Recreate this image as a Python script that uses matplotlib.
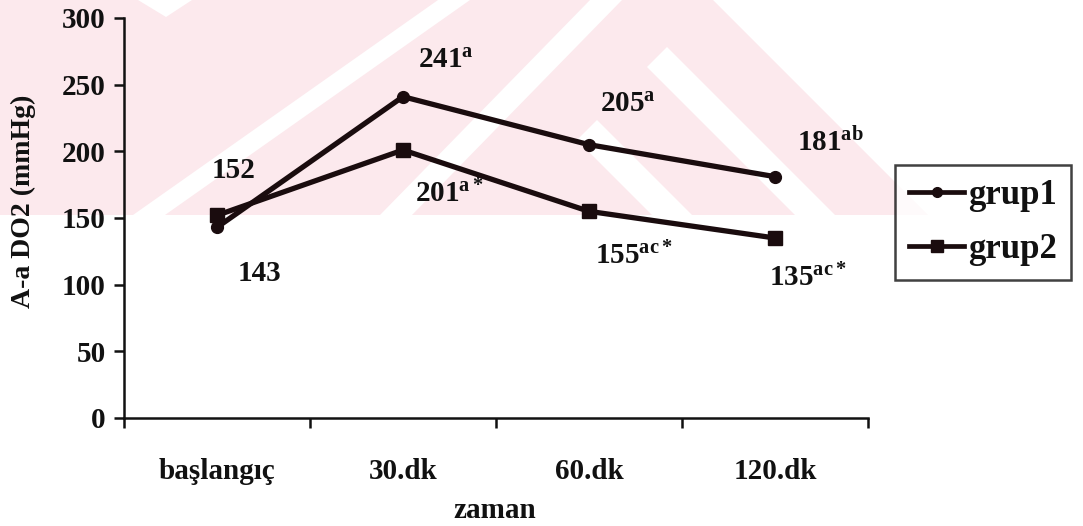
import matplotlib
matplotlib.use("Agg")
import matplotlib.pyplot as plt
from matplotlib.patches import Polygon
from matplotlib.lines import Line2D

# ---- data -------------------------------------------------------------
categories = ["başlangıç", "30.dk", "60.dk", "120.dk"]
grup1 = [143, 241, 205, 181]
grup2 = [152, 201, 155, 135]
grup1_sup = ["", "a", "a", "ab"]
grup2_sup = ["", "a*", "ac*", "ac*"]
yticks = [0, 50, 100, 150, 200, 250, 300]

# label anchor offsets (category units, value units) from each point
grup1_offsets = [(0.113, -40.2), (0.081, 21.5), (0.059, 24.5), (0.118, 18.5)]
grup2_offsets = [(-0.027, 28.0), (0.065, -39.0), (0.032, -39.5), (-0.032, -36.0)]

# ---- style ------------------------------------------------------------
plt.rcParams["font.family"] = ["Liberation Serif", "DejaVu Serif"]
plt.rcParams["font.weight"] = "bold"
plt.rcParams["mathtext.fontset"] = "custom"
plt.rcParams["mathtext.rm"] = "Liberation Serif:bold"
plt.rcParams["mathtext.it"] = "Liberation Serif:bold"
plt.rcParams["mathtext.bf"] = "Liberation Serif:bold"

INK = "#1a0c0e"
TXT = "#111111"
PINK = "#fce9ed"
FS = 21

W, H = 1083, 526
fig = plt.figure(figsize=(W / 100, H / 100), dpi=100)


def px(pts):
    return [(x / W, 1 - y / H) for x, y in pts]


# faint background emblem (pixel geometry, y measured downwards)
emblem = [(0, 0), (713, 0), (928, 215), (0, 215)]
gaps = [
    [(138, 0), (192, 0), (166, 17)],
    [(133, 215), (165, 215), (470, 0), (438, 0)],
    [(380, 215), (412, 215), (622, 0), (590, 0)],
    [(667, 47), (835, 215), (795, 215), (647, 67)],
    [(597, 120), (692, 215), (652, 215), (577, 140)],
]
fig.patches.append(Polygon(px(emblem), closed=True, transform=fig.transFigure,
                           facecolor=PINK, edgecolor="none", zorder=-10))
for g in gaps:
    fig.patches.append(Polygon(px(g), closed=True, transform=fig.transFigure,
                               facecolor="white", edgecolor="none", zorder=-9))

ax = fig.add_axes([124 / W, 1 - 418 / H, 744 / W, 400 / H])
ax.set_facecolor("none")

xs = list(range(len(categories)))
ax.plot(xs, grup1, color=INK, lw=3.8, marker="o", ms=8.5, label="grup1",
        solid_joinstyle="round", zorder=3)
ax.plot(xs, grup2, color=INK, lw=3.8, marker="s", ms=10.5, label="grup2",
        solid_joinstyle="round", zorder=3)

ax.set_xlim(-0.5, len(categories) - 0.5)
ax.set_ylim(0, 300)

for vals, sups, offs in ((grup1, grup1_sup, grup1_offsets),
                         (grup2, grup2_sup, grup2_offsets)):
    for i, (v, s, (dx, dy)) in enumerate(zip(vals, sups, offs)):
        label = f"${v}^{{{s}}}$" if s else f"{v}"
        ax.text(i + dx, v + dy, label, fontsize=FS, fontweight="bold",
                color=TXT, ha="left", va="baseline", zorder=4)

# axes frame
for side in ("top", "right"):
    ax.spines[side].set_visible(False)
for side in ("left", "bottom"):
    ax.spines[side].set_linewidth(1.8)
    ax.spines[side].set_color(TXT)

ax.set_yticks(yticks)
ax.set_yticklabels([str(t) for t in yticks])
ax.tick_params(axis="y", direction="out", length=7, width=1.8, pad=6,
               labelsize=FS, colors=TXT)

ax.set_xticks(xs)
ax.set_xticklabels(categories)
ax.set_xticks([x - 0.5 for x in range(len(categories) + 1)], minor=True)
ax.tick_params(axis="x", which="major", length=0, pad=29, labelsize=FS,
               colors=TXT)
ax.tick_params(axis="x", which="minor", direction="out", length=7, width=1.8,
               colors=TXT)

ax.set_xlabel("zaman", fontsize=FS, fontweight="bold", color=TXT)
ax.xaxis.label.set_va("baseline")
ax.xaxis.set_label_coords(0.4987, -0.25)

ax.set_ylabel("A-a DO2 (mmHg)", fontsize=20, fontweight="bold", color=TXT)
ax.yaxis.label.set_va("center")
ax.yaxis.set_label_coords(-0.1358, 0.5425)

handles = [
    Line2D([], [], color=INK, lw=3.4, marker="o", ms=7),
    Line2D([], [], color=INK, lw=3.4, marker="s", ms=8),
]
leg = fig.legend(handles, ["grup1", "grup2"], loc="upper left",
                 bbox_to_anchor=(895 / W, 1 - 165 / H), borderaxespad=0,
                 prop={"family": "Liberation Serif", "weight": "bold",
                       "size": 25},
                 frameon=True, fancybox=False, handlelength=1.6,
                 handletextpad=0.1, borderpad=0.4, labelspacing=0.6)
leg.get_frame().set_edgecolor(TXT)
leg.get_frame().set_linewidth(1.8)
for t in leg.get_texts():
    t.set_color(TXT)

fig.savefig("out.png", dpi=100)
